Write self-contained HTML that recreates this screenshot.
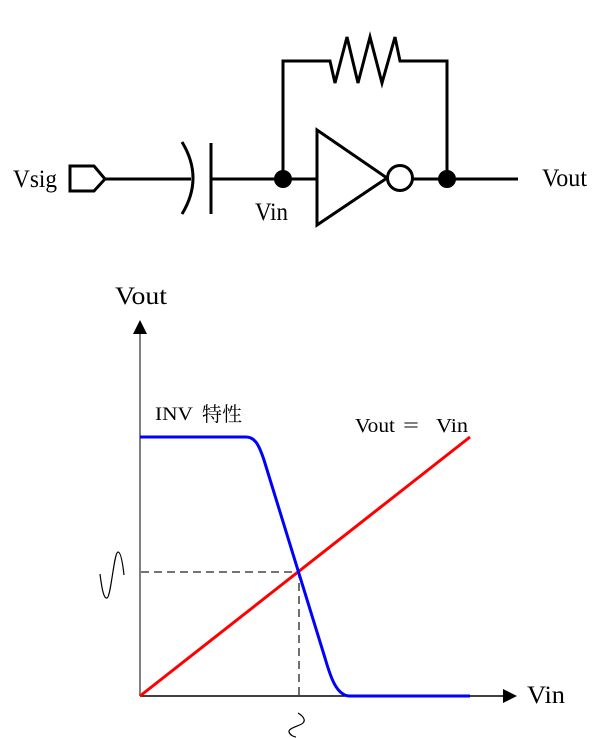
<!DOCTYPE html>
<html><head><meta charset="utf-8"><style>
html,body{margin:0;padding:0;background:#fff;}
svg{display:block;}
text{font-family:"Liberation Serif","Noto Serif CJK SC",serif;fill:#000;}
</style></head><body>
<svg width="600" height="738" viewBox="0 0 600 738" xmlns="http://www.w3.org/2000/svg">
<!-- circuit -->
<g fill="none" stroke="#000" stroke-width="3" stroke-linejoin="miter">
<path d="M70,166 L94,166 L105,179 L94,191 L70,191 Z" fill="#fff"/>
<path d="M105,179 L191,179"/>
<path d="M182,142 Q204,178 182,214"/>
<path d="M211,143 L211,214"/>
<path d="M211,179 L317,179"/>
<path d="M283,179 L283,61 L330,61 L335,83 L347,37 L358,83 L370,37 L382,83 L395,37 L400,61 L447,61 L447,179"/>
<path d="M317,130 L317,225 L387,178 Z"/>
<circle cx="400" cy="178" r="12.5" fill="#fff"/>
<path d="M412.5,179 L518,179"/>
</g>
<circle cx="283" cy="179" r="9" fill="#000"/>
<circle cx="447" cy="179" r="9" fill="#000"/>
<text x="13" y="187" font-size="25" textLength="44" lengthAdjust="spacingAndGlyphs">Vsig</text>
<text x="255" y="220" font-size="25" textLength="33" lengthAdjust="spacingAndGlyphs">Vin</text>
<text x="542" y="186" font-size="25" textLength="45" lengthAdjust="spacingAndGlyphs">Vout</text>

<!-- graph -->
<path d="M140,696 L140,332" stroke="#808080" stroke-width="2" fill="none"/>
<path d="M140,320 L133,334 L147,334 Z" fill="#000"/>
<path d="M140,696 L505,696" stroke="#000" stroke-width="1.6" fill="none"/>
<path d="M517,696 L503,689 L503,703 Z" fill="#000"/>
<path d="M141,572 L299,572 L299,696" stroke="#222" stroke-width="1.3" stroke-dasharray="8,5" fill="none"/>
<path d="M140,696 L470,437" stroke="#f00" stroke-width="3" fill="none"/>
<path d="M140,437 L246,437 C255,437 259,445 264,460 L325,658 C330,675 336,696 350,696 L470,696" stroke="#00f" stroke-width="3" fill="none" stroke-linejoin="round"/>
<path d="M100,574 C102,590 104,599 107,598 C111,597 114,552 118,552 C121,552 123,566 124,575" stroke="#000" stroke-width="1.2" fill="none"/>
<path d="M298,713 C303,716 306,720 303,723 C300,726 288,728 289,732 C290,735 294,737 296,737" stroke="#000" stroke-width="1.2" fill="none"/>

<text x="115" y="304" font-size="25" textLength="52" lengthAdjust="spacingAndGlyphs">Vout</text>
<text x="527" y="703" font-size="25" textLength="38" lengthAdjust="spacingAndGlyphs">Vin</text>
<text x="155" y="420" font-size="19" textLength="38" lengthAdjust="spacingAndGlyphs">INV</text>
<text x="202" y="421" font-size="20" textLength="40" lengthAdjust="spacingAndGlyphs" style="font-family:'Noto Serif CJK SC','Noto Sans CJK JP',serif">特性</text>
<text x="355" y="432" font-size="20" textLength="40" lengthAdjust="spacingAndGlyphs">Vout</text>
<text x="403" y="432" font-size="20" textLength="16" lengthAdjust="spacingAndGlyphs">=</text>
<text x="436" y="432" font-size="20" textLength="32" lengthAdjust="spacingAndGlyphs">Vin</text>
</svg>
</body></html>
